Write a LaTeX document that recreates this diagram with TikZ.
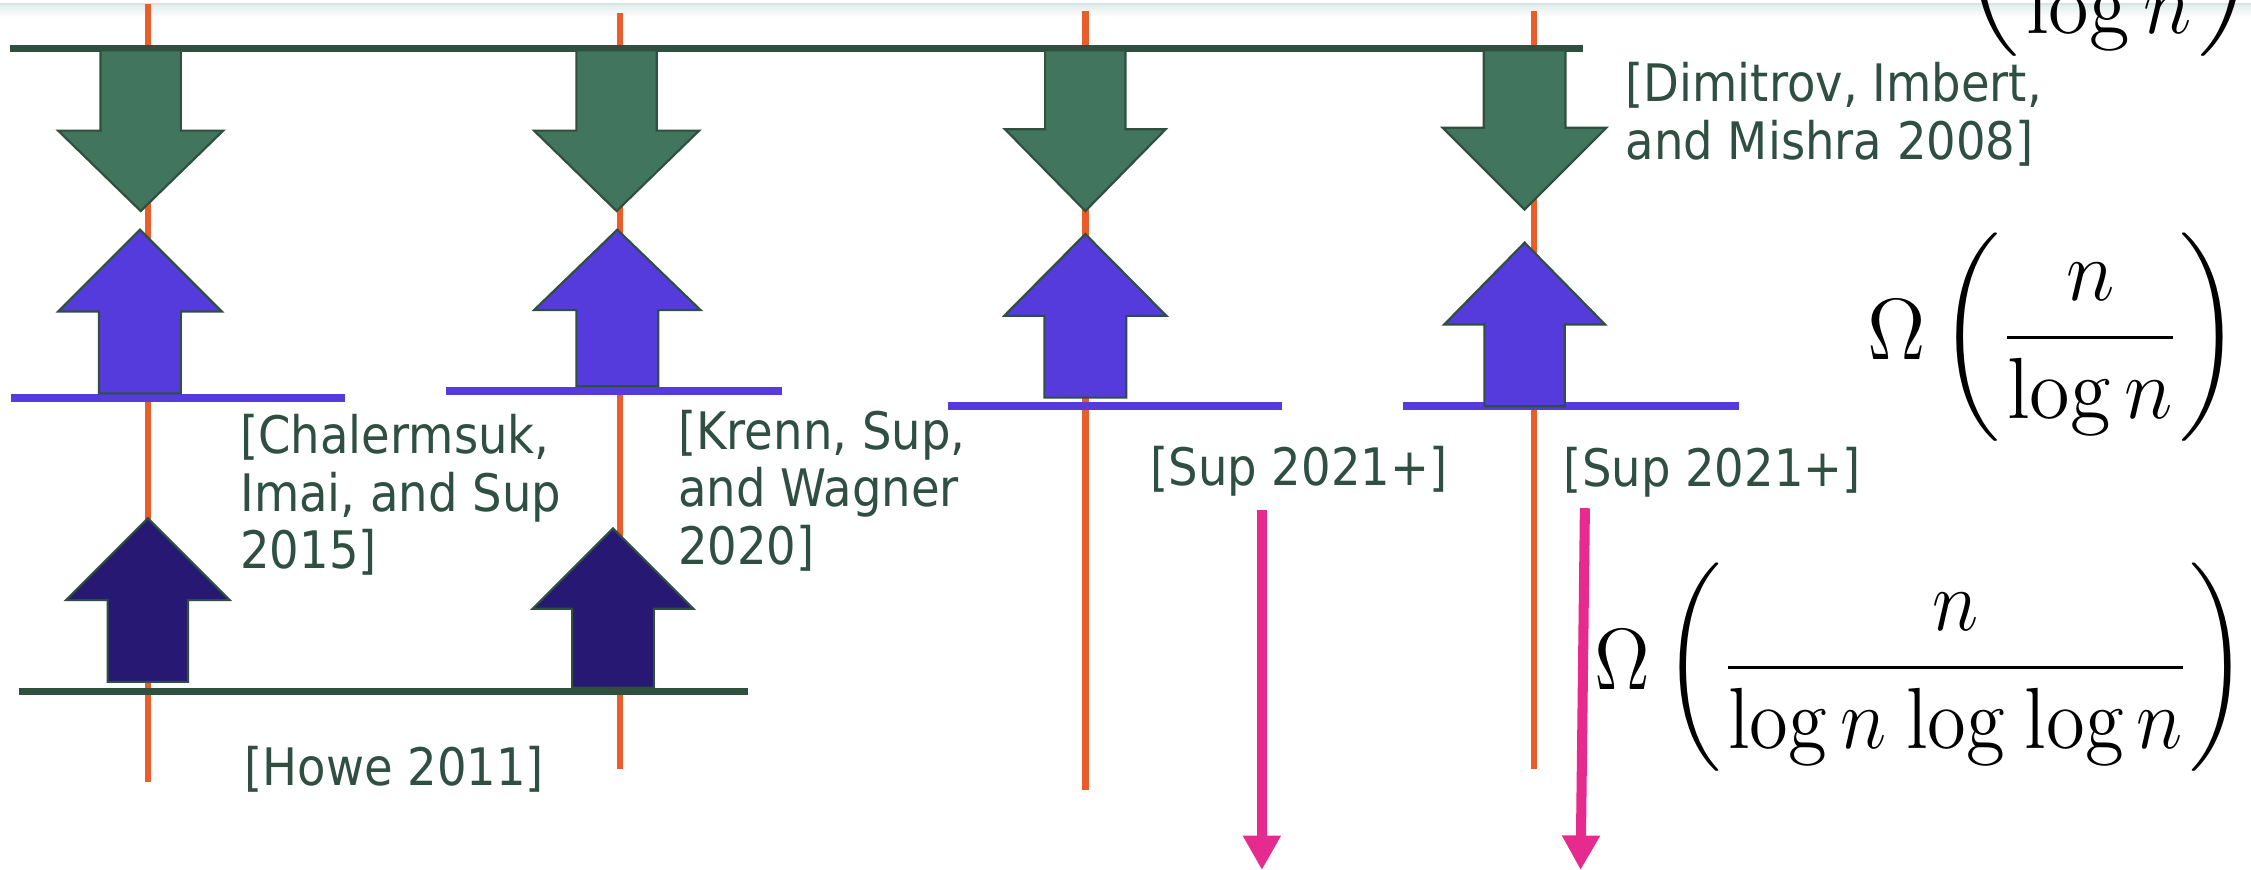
\documentclass[tikz,border=0pt]{standalone}
\usepackage{amsmath}
\usepackage{fontspec}
\newfontfamily\reffont[FakeStretch=0.9]{DejaVu Sans}
\usetikzlibrary{arrows.meta}
\definecolor{orangeln}{RGB}{232,93,42}
\definecolor{darkbar}{RGB}{47,79,63}
\definecolor{greenfill}{RGB}{65,117,94}
\definecolor{bluefill}{RGB}{85,59,219}
\definecolor{navyfill}{RGB}{38,24,115}
\definecolor{pinkarr}{RGB}{230,42,142}
\definecolor{txtgreen}{RGB}{46,79,66}
\definecolor{topedge}{RGB}{214,228,228}
% block arrow: #1 style, #2 centre x, #3 tip y, #4 head base y, #5 tail y, #6 half head width, #7 half shaft width
\newcommand\blockarr[7]{%
  \filldraw[#1] ({#2-#7},#5) -- ({#2-#7},#4) -- ({#2-#6},#4) -- (#2,#3)
    -- ({#2+#6},#4) -- ({#2+#7},#4) -- ({#2+#7},#5) -- cycle;}
\tikzset{
  vline/.style={draw=orangeln, line width=2.3pt},
  darkline/.style={draw=darkbar, line width=2.5pt},
  blueline/.style={draw=bluefill, line width=2.75pt},
  greenarr/.style={fill=greenfill, draw=darkbar, line width=0.75pt},
  bluearr/.style={fill=bluefill, draw=darkbar, line width=0.75pt},
  navyarr/.style={fill=navyfill, draw=darkbar, line width=0.75pt},
  pinkarrow/.style={draw=pinkarr, line width=3.5pt, -{Triangle[length=12pt,width=12.5pt]}},
  reftext/.style={font=\reffont\fontsize{18}{20}\selectfont, text=txtgreen, align=left, inner sep=0pt, anchor=base west},
  formula/.style={font=\fontsize{14.4}{17}\selectfont, xscale=2, yscale=2.1, inner sep=0pt, anchor=west},
}
\begin{document}
\begin{tikzpicture}[x=0.5pt, y=-0.5pt]
\useasboundingbox (0,0) rectangle (1568,606);
\fill[white] (0,0) rectangle (1568,606);
\clip (0,0) rectangle (1568,606);
% top edge of the slide
\shade[top color=topedge!70, bottom color=white] (0,3) rectangle (1568,12);
\draw[topedge, line width=0.6pt] (0,3) -- (1568,3);
% orange vertical lines
\draw[vline] (103,3) -- (103,545);
\draw[vline] (432,9) -- (432,536);
\draw[vline] (756,8) -- (756,550);
\draw[vline] (1068.5,8) -- (1068.5,536);
% horizontal bars
\draw[darkline] (7,34) -- (1103,34);
\draw[darkline] (13,481.5) -- (521,481.5);
\draw[blueline] (8,277) -- (240,277);
\draw[blueline] (311,272.5) -- (545,272.5);
\draw[blueline] (660,282.5) -- (893,282.5);
\draw[blueline] (977,282.5) -- (1211,282.5);
% green down arrows
\blockarr{greenarr}{98}{147}{91}{35}{57.5}{28}
\blockarr{greenarr}{429.5}{147}{91}{35}{57.5}{28}
\blockarr{greenarr}{756}{147}{90}{35}{56}{28}
\blockarr{greenarr}{1062}{146}{89}{35}{57}{28.5}
% blue up arrows
\blockarr{bluearr}{97.5}{160}{217}{274}{57}{28.5}
\blockarr{bluearr}{430}{160}{216}{269}{58}{28.5}
\blockarr{bluearr}{756}{163}{220}{277}{56.5}{28.5}
\blockarr{bluearr}{1062}{169}{226}{283}{56}{28}
% navy up arrows
\blockarr{navyarr}{103}{361}{418}{475}{57}{28}
\blockarr{navyarr}{427}{368}{424}{479}{56}{28.5}
% pink arrows
\coordinate (p1s) at (879,355);
\coordinate (p1e) at (879,606);
\coordinate (p2s) at (1104,354);
\coordinate (p2e) at (1101,606);
\draw[pinkarrow] (p1s) -- (p1e);
\draw[pinkarrow] (p2s) -- (p2e);
% references (anchor at the baseline of the last line)
\node[reftext] (dim) at (1132,111) {[Dimitrov, Imbert,\\and Mishra 2008]};
\node[reftext] (chal) at (167,396) {[Chalermsuk,\\Imai, and Sup\\2015]};
\node[reftext] (krenn) at (472,393) {[Krenn, Sup,\\and Wagner\\2020]};
\node[reftext] (sup1) at (801,338) {[Sup 2021+]};
\node[reftext] (sup2) at (1089,339) {[Sup 2021+]};
\node[reftext] (howe) at (170,547) {[Howe 2011]};
% formulas
\node[formula] (ftop) at (1313,-33) {$\displaystyle\Omega\left(\frac{n}{\log n}\right)$};
\node[formula] (fmid) at (1300,235) {$\displaystyle\Omega\left(\frac{n}{\log n}\right)$};
\node[formula, xscale=0.955] (fbot) at (1110,465) {$\displaystyle\Omega\left(\frac{n}{\log n\mskip1.5mu\log\mskip1.5mu\log n}\right)$};
\end{tikzpicture}
\end{document}
